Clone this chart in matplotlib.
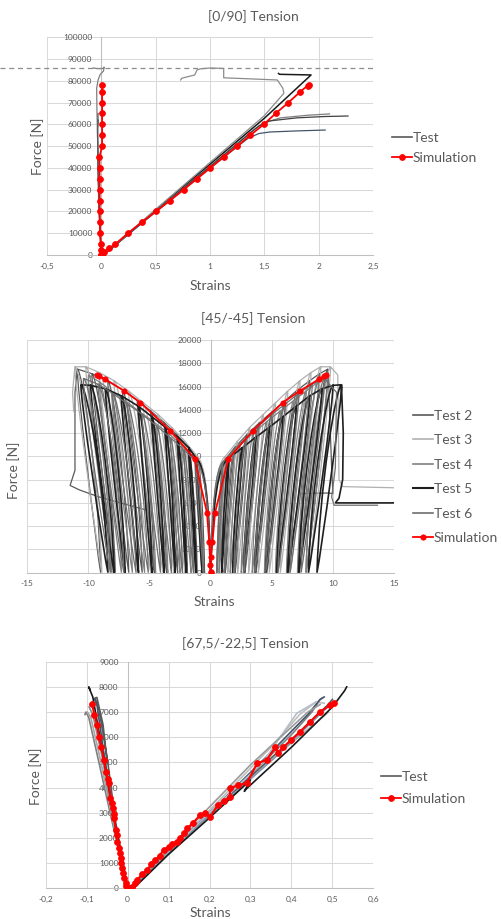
import matplotlib
matplotlib.use("Agg")
import matplotlib.pyplot as plt
from matplotlib.path import Path
from matplotlib.patches import PathPatch
from matplotlib.lines import Line2D
from matplotlib.ticker import FuncFormatter

plt.rcParams['font.family'] = ['Lato', 'DejaVu Sans']

TXT = '#595959'
GRID = '#d9d9d9'
AXIS = '#bfbfbf'
RED = '#ff0000'
MS = 4.2

# ---------------- [0/90] tension ----------------
p1_xticks = [-0.5, 0, 0.5, 1, 1.5, 2, 2.5]
p1_yticks = [0, 10000, 20000, 30000, 40000, 50000, 60000, 70000, 80000, 90000, 100000]
p1_strength = 85700

p1_sim_long_x = [0, 0.012, 0.02, 0.067, 0.129, 0.245, 0.371, 0.503, 0.632, 0.757, 0.88,
                 1.003, 1.126, 1.249, 1.371, 1.494, 1.604, 1.721, 1.831, 1.898, 1.907]
p1_sim_long_f = [0, 700, 1200, 3000, 5000, 10000, 15000, 20000, 25000, 30000, 35000,
                 40000, 45000, 50000, 55000, 60000, 65000, 70000, 75000, 77800, 78100]
p1_sim_tran_x = [0, 0.0, -0.005, -0.012, -0.013, -0.014, -0.015, -0.015, -0.016, -0.016,
                 -0.017, 0.007, 0.007, 0.007, 0.007, 0.007, 0.007, 0.007]
p1_sim_tran_f = [0, 2500, 5000, 10000, 15000, 20000, 25000, 30000, 35000, 40000,
                 45000, 50000, 55000, 60000, 65000, 70000, 75000, 78000]

p1_tests = [
    # (strain, force, colour, width)
    ([0.02, 0.5, 1.0, 1.5, 1.93, 1.64, 1.63],
     [0, 20600, 41700, 62800, 82700, 83000, 83400], '#1a1a1a', 1.1),
    ([0.02, 0.5, 1.0, 1.4, 1.5, 1.65, 1.9, 2.1],
     [0, 20300, 40800, 57500, 60800, 63000, 64200, 64800], '#7f7f7f', 0.9),
    ([0.02, 0.5, 1.0, 1.45, 1.55, 1.8, 2.05, 2.27],
     [0, 20100, 40600, 59300, 61600, 63000, 63600, 63850], '#404040', 0.9),
    ([0.02, 0.5, 1.0, 1.35, 1.45, 1.55, 1.8, 2.06],
     [0, 19800, 39900, 53600, 55800, 56500, 57000, 57400], '#44546a', 0.9),
    ([0.02, 0.5, 1.0, 1.5, 1.68, 1.67, 1.64, 1.62, 1.126, 1.126, 1.0, 0.91, 0.88, 0.86, 0.74, 0.73],
     [0, 21000, 42500, 64000, 74300, 76600, 78900, 80400, 81400, 85700, 85900, 85500, 85000,
      82700, 81200, 80400], '#8c8c8c', 0.9),
    ([0, -0.02, -0.03, -0.035, -0.03],
     [0, 20000, 40000, 58000, 62000], '#262626', 0.9),
    ([0, -0.02, -0.03, -0.04, -0.043, -0.03, -0.01, 0.02, 0.025, 0.02, -0.03, -0.077],
     [0, 20000, 45000, 65000, 76600, 80400, 83000, 84500, 86300, 85700, 85600, 85900], '#7f7f7f', 0.9),
    ([0, -0.025, -0.035, -0.03],
     [0, 25000, 55000, 65000], '#595959', 0.9),
]

# ---------------- [45/-45] tension ----------------
p2_xticks = [-15, -10, -5, 0, 5, 10, 15]
p2_yticks = list(range(0, 20001, 2000))

p2_sim_x = [-9.3, -9.14, -8.65, -7.07, -5.74, -3.29, -1.31, -0.3, -0.12, -0.02, 0,
            0, 0.02, 0.15, 0.36, 1.45, 3.46, 5.9, 7.27, 8.9, 9.25, 9.4]
p2_sim_f = [16950, 16920, 16630, 15630, 14620, 12190, 9800, 5160, 2670, 660, 90,
            90, 1380, 2670, 5160, 9800, 12210, 14620, 15600, 16660, 16900, 16950]

test2_force = [9600, 10800, 11900, 12900, 13900, 14800, 15700, 16500, 17100, 17500]
test2_pos_peak = [1.1, 2.0, 3.0, 4.0, 5.1, 6.1, 7.1, 8.1, 8.9, 9.6]
test2_pos_res = [0.5, 1.2, 2.0, 2.8, 3.7, 4.6, 5.5, 6.4, 7.2, 7.8]
test2_neg_peak = [-1.0, -1.8, -2.8, -3.8, -4.9, -6.0, -7.2, -8.4, -9.7, -10.9]
test2_neg_res = [-0.5, -1.1, -1.9, -2.7, -3.6, -4.6, -5.6, -6.7, -7.8, -9.0]
test2_pos_tail = ([9.9, 10.0, 9.6, 7.4], [9000, 6800, 6850, 6800])
test2_neg_tail = ([-11.1, -11.1, -11.5, -10.7, -9.1, -5.3], [15500, 8800, 7500, 7100, 6500, 5400])

test3_force = [10000, 11300, 12500, 13600, 14600, 15600, 16500, 17200, 17700, 17700]
test3_pos_peak = [1.2, 2.2, 3.2, 4.3, 5.3, 6.3, 7.3, 8.2, 9.0, 9.8]
test3_pos_res = [0.6, 1.4, 2.2, 3.1, 3.9, 4.8, 5.7, 6.5, 7.3, 8.0]
test3_neg_peak = [-1.1, -2.1, -3.2, -4.3, -5.5, -6.7, -7.9, -9.1, -10.2, -11.1]
test3_neg_res = [-0.6, -1.3, -2.1, -3.0, -3.9, -4.9, -5.9, -7.0, -8.0, -8.9]
test3_pos_tail = ([10.4, 10.5, 10.8, 15.0], [17000, 8000, 7400, 7300])
test3_neg_tail = ([-11.3, -11.2], [15500, 13800])

test4_force = [9800, 11000, 12000, 13000, 13900, 14800, 15600, 16400, 17000]
test4_pos_peak = [1.3, 2.4, 3.5, 4.6, 5.7, 6.8, 7.8, 8.8, 9.6]
test4_pos_res = [0.7, 1.6, 2.5, 3.4, 4.4, 5.3, 6.2, 7.1, 7.8]
test4_neg_peak = [-1.3, -2.4, -3.5, -4.7, -5.9, -7.0, -8.1, -9.1, -10.0]
test4_neg_res = [-0.7, -1.6, -2.5, -3.5, -4.5, -5.4, -6.4, -7.3, -8.1]
test4_pos_tail = ([], [])
test4_neg_tail = ([], [])

test5_force = [9850, 10750, 11650, 12500, 13400, 14300, 15200, 15800, 16100, 16150]
test5_pos_peak = [1.5, 2.6, 3.7, 4.8, 5.9, 7.0, 8.1, 9.1, 10.0, 10.7]
test5_pos_res = [0.9, 1.8, 2.7, 3.6, 4.5, 5.4, 6.3, 7.2, 8.0, 8.7]
test5_neg_peak = [-1.2, -1.8, -2.7, -3.7, -4.8, -5.9, -7.3, -8.6, -9.8, -10.6]
test5_neg_res = [-0.7, -1.2, -2.0, -2.9, -3.8, -4.8, -5.9, -7.0, -7.9, -8.4]
test5_pos_tail = ([10.85, 10.8, 10.5, 10.2, 15.0], [12000, 8000, 6400, 6000, 6000])
test5_neg_tail = ([], [])

test6_force = [9500, 10600, 11600, 12600, 13600, 14500, 15400, 16200, 16700]
test6_pos_peak = [1.0, 1.9, 2.9, 3.9, 5.0, 6.1, 7.2, 8.3, 9.3]
test6_pos_res = [0.5, 1.1, 1.9, 2.7, 3.6, 4.5, 5.5, 6.5, 7.4]
test6_neg_peak = [-1.2, -2.2, -3.3, -4.4, -5.6, -6.8, -8.0, -9.2, -10.4]
test6_neg_res = [-0.6, -1.4, -2.3, -3.2, -4.1, -5.1, -6.1, -7.1, -8.2]
test6_pos_tail = ([10.3, 10.2, 9.9, 10.1, 13.7], [15500, 9000, 6500, 5800, 5800])
test6_neg_tail = ([], [])

p2_tests = [
    ('Test 2', '#595959', 0.9, test2_force, test2_pos_peak, test2_pos_res, test2_neg_peak,
     test2_neg_res, test2_pos_tail, test2_neg_tail),
    ('Test 3', '#b0b0b0', 0.9, test3_force, test3_pos_peak, test3_pos_res, test3_neg_peak,
     test3_neg_res, test3_pos_tail, test3_neg_tail),
    ('Test 4', '#808080', 0.9, test4_force, test4_pos_peak, test4_pos_res, test4_neg_peak,
     test4_neg_res, test4_pos_tail, test4_neg_tail),
    ('Test 5', '#1f1f1f', 1.2, test5_force, test5_pos_peak, test5_pos_res, test5_neg_peak,
     test5_neg_res, test5_pos_tail, test5_neg_tail),
    ('Test 6', '#6e6e6e', 0.9, test6_force, test6_pos_peak, test6_pos_res, test6_neg_peak,
     test6_neg_res, test6_pos_tail, test6_neg_tail),
]

# ---------------- [67,5/-22,5] tension ----------------
p3_xticks = [-0.2, -0.1, 0, 0.1, 0.2, 0.3, 0.4, 0.5, 0.6]
p3_yticks = list(range(0, 9001, 1000))

p3_sim_long_x = [0, 0.006, 0.011, 0.017, 0.023, 0.035, 0.047, 0.058, 0.068, 0.078, 0.088,
                 0.1, 0.108, 0.12, 0.128, 0.138, 0.145, 0.16, 0.177, 0.19, 0.202, 0.22,
                 0.235, 0.25, 0.25, 0.27, 0.291, 0.316, 0.34, 0.361, 0.368, 0.38, 0.4,
                 0.42, 0.445, 0.47, 0.495, 0.503]
p3_sim_long_f = [0, 0, 60, 200, 330, 550, 730, 950, 1120, 1300, 1520,
                 1650, 1760, 1850, 1990, 2200, 2380, 2600, 2910, 3000, 2840, 3300,
                 3450, 3640, 3970, 4100, 4170, 4960, 5100, 5600, 5390, 5600, 5900,
                 6200, 6600, 7010, 7280, 7350]
p3_sim_tran_x = [0, -0.003, -0.005, -0.008, -0.011, -0.013, -0.015, -0.017, -0.019, -0.022,
                 -0.025, -0.027, -0.029, -0.032, -0.034, -0.036, -0.039, -0.042, -0.046,
                 -0.049, -0.052, -0.058, -0.064, -0.07, -0.075, -0.081, -0.087]
p3_sim_tran_f = [0, 100, 200, 400, 600, 800, 990, 1200, 1390, 1600,
                 1850, 2100, 2320, 2780, 2950, 3200, 3400, 3600, 4170,
                 4350, 4600, 5100, 5620, 6000, 6500, 6900, 7320]

p3_tests = [
    ([0.01, 0.15, 0.3, 0.4, 0.45, 0.47, 0.475], [0, 2200, 4500, 6100, 7000, 7500, 7550], '#7f7f7f'),
    ([0.01, 0.2, 0.35, 0.42, 0.46, 0.48], [0, 3100, 5600, 6900, 7400, 7350], '#bfbfbf'),
    ([0.005, 0.2, 0.35, 0.44, 0.47, 0.48], [0, 3000, 5400, 6900, 7500, 7600], '#44546a'),
    ([0.01, 0.2, 0.38, 0.48, 0.49], [0, 2900, 5500, 6850, 7000], '#a6a6a6'),
    ([0.01, 0.25, 0.4, 0.49, 0.5], [0, 3700, 5900, 7300, 7500], '#595959'),
    ([0.01, 0.2, 0.33, 0.413, 0.46], [0, 3000, 5000, 6950, 7400], '#b4bdc9'),
    ([0.01, 0.18, 0.3, 0.38, 0.44, 0.47], [0, 2900, 4900, 6100, 7000, 7300], '#9a9a9a'),
    ([0.01, 0.22, 0.36, 0.45, 0.495], [0, 3200, 5200, 6600, 7300], '#8497b0'),
    ([0.015, 0.1, 0.2, 0.3, 0.285, 0.29, 0.4, 0.5, 0.53, 0.535],
     [0, 1350, 2800, 4300, 3850, 3950, 5600, 7200, 7850, 8000], '#1a1a1a'),
    ([0, -0.04, -0.07, -0.095, -0.102, -0.104], [0, 2800, 5000, 6800, 7000, 6900], '#7f7f7f'),
    ([0, -0.04, -0.065, -0.09, -0.098], [0, 3000, 5000, 6800, 7000], '#a6a6a6'),
    ([0, -0.038, -0.062, -0.085, -0.094], [0, 3000, 5200, 6900, 7200], '#8c8c8c'),
    ([0, -0.03, -0.05, -0.07, -0.08, -0.075, -0.06, -0.05],
     [0, 2700, 5200, 7100, 7550, 7580, 6500, 5000], '#595959'),
    ([0, -0.035, -0.06, -0.075, -0.08], [0, 3000, 5600, 7300, 7500], '#44546a'),
    ([0, -0.03, -0.06, -0.085, -0.095, -0.092], [0, 2500, 5300, 7600, 8000, 7900], '#1a1a1a'),
]


def comma(v, pos):
    s = f'{v:g}'
    return s.replace('.', ',')


def excel_axes(ax, xticks, yticks):
    ax.set_xlim(xticks[0], xticks[-1])
    ax.set_ylim(yticks[0], yticks[-1])
    ax.set_xticks(xticks)
    ax.set_yticks(yticks)
    ax.xaxis.set_major_formatter(FuncFormatter(comma))
    ax.yaxis.set_major_formatter(FuncFormatter(comma))
    ax.grid(True, color=GRID, lw=0.75)
    ax.set_axisbelow(True)
    for s in ['top', 'right']:
        ax.spines[s].set_visible(False)
    ax.spines['left'].set_position(('data', 0))
    for s in ['left', 'bottom']:
        ax.spines[s].set_color(AXIS)
        ax.spines[s].set_linewidth(0.75)
        ax.spines[s].set_zorder(0.6)
    ax.tick_params(length=0, labelsize=6, labelcolor=TXT)
    ax.tick_params(axis='y', pad=6.5)
    ax.tick_params(axis='x', pad=5.5)


def labels(ax, title, tx, ty, sx, sy, fx, fy):
    ax.text(tx, ty, title, transform=ax.transAxes, ha='center', va='center',
            fontsize=10, color=TXT)
    ax.text(sx, sy, 'Strains', transform=ax.transAxes, ha='center', va='center',
            fontsize=10, color=TXT)
    ax.text(fx, fy, 'Force [N]', transform=ax.transAxes, ha='center', va='center',
            rotation=90, fontsize=10, color=TXT)


def cycles(peaks, forces, residuals, tail):
    # loading along the envelope, with an unload / reload leaf at every peak
    p0, f0 = peaks[0], forces[0]
    verts = [(0, 0), (0.1 * p0, 0.6 * f0), (0.4 * p0, 0.95 * f0), (p0, f0)]
    codes = [Path.MOVETO, Path.CURVE4, Path.CURVE4, Path.CURVE4]
    for i, (p, f, r) in enumerate(zip(peaks, forces, residuals)):
        if i > 0:
            verts.append((p, f))
            codes.append(Path.LINETO)
        d = p - r
        verts += [(p + 0.07 * d, 0.96 * f), (r + 0.18 * d, 0.12 * f), (r, 0)]
        codes += [Path.CURVE4] * 3
        verts += [(r + 0.1 * d, 0.45 * f), (p - 0.22 * d, 0.99 * f), (p, f)]
        codes += [Path.CURVE4] * 3
    for x, y in zip(*tail):
        verts.append((x, y))
        codes.append(Path.LINETO)
    return Path(verts, codes)


fig = plt.figure(figsize=(5.01, 9.19), dpi=100)

# ---- panel 1
ax1 = fig.add_axes([47 / 501, 1 - 255 / 919, 326 / 501, 217.7 / 919])
excel_axes(ax1, p1_xticks, p1_yticks)
for xs, fs, c, w in p1_tests:
    ax1.plot(xs, fs, color=c, lw=w)
ax1.axhline(p1_strength, xmin=-0.144, xmax=1, color='#8c8c8c', lw=0.9, ls=(0, (4, 3)),
            clip_on=False)
ax1.plot(p1_sim_tran_x, p1_sim_tran_f, color=RED, lw=1.3, marker='o', ms=MS, mew=0.6)
ax1.plot(p1_sim_long_x, p1_sim_long_f, color=RED, lw=1.3, marker='o', ms=MS, mew=0.6)
labels(ax1, '[0/90] Tension', 0.632, 1.0946, 0.5, -0.1424, -0.0298, 0.4975)
h1 = [Line2D([], [], color='#595959', lw=1.2),
      Line2D([], [], color=RED, lw=1.3, marker='o', ms=MS, mew=0.6)]
ax1.legend(h1, ['Test', 'Simulation'], loc='center left', bbox_to_anchor=(0.783, 0.8392),
           bbox_transform=fig.transFigure, frameon=False, fontsize=10, labelcolor=TXT,
           handlelength=1.44, handletextpad=0.05, labelspacing=0.55, borderpad=0,
           borderaxespad=0)

# ---- panel 2
ax2 = fig.add_axes([27.3 / 501, 1 - 572.7 / 919, 366.7 / 501, 232.7 / 919])
excel_axes(ax2, p2_xticks, p2_yticks)
h2 = []
for name, c, w, fs, pp, pr, npk, nr, pt, nt in p2_tests:
    ax2.add_patch(PathPatch(cycles(pp, fs, pr, pt), fill=False, edgecolor=c, lw=w))
    ax2.add_patch(PathPatch(cycles(npk, fs, nr, nt), fill=False, edgecolor=c, lw=w))
    h2.append(Line2D([], [], color=c, lw=w + 0.3))
ax2.plot(p2_sim_x, p2_sim_f, color=RED, lw=1.3, marker='o', ms=3.8, mew=0.6)
h2.append(Line2D([], [], color=RED, lw=1.3, marker='o', ms=3.8, mew=0.6))
labels(ax2, '[45/-45] Tension', 0.617, 1.0902, 0.509, -0.1246, -0.038, 0.441)
ax2.legend(h2, [t[0] for t in p2_tests] + ['Simulation'], loc='center left',
           bbox_to_anchor=(0.825, 0.4812), bbox_transform=fig.transFigure, frameon=False,
           fontsize=10, labelcolor=TXT, handlelength=1.44, handletextpad=0.05,
           labelspacing=0.9, borderpad=0, borderaxespad=0)

# ---- panel 3
ax3 = fig.add_axes([45.7 / 501, 1 - 888.3 / 919, 327.6 / 501, 226.6 / 919])
excel_axes(ax3, p3_xticks, p3_yticks)
for xs, fs, c in p3_tests:
    ax3.plot(xs, fs, color=c, lw=1.2)
ax3.plot(p3_sim_tran_x, p3_sim_tran_f, color=RED, lw=1.5, marker='o', ms=MS, mew=0.6)
ax3.plot(p3_sim_long_x, p3_sim_long_f, color=RED, lw=1.5, marker='o', ms=MS, mew=0.6)
labels(ax3, '[67,5/-22,5] Tension', 0.609, 1.078, 0.5015, -0.1077, -0.0296, 0.4956)
h3 = [Line2D([], [], color='#595959', lw=1.2),
      Line2D([], [], color=RED, lw=1.3, marker='o', ms=MS, mew=0.6)]
ax3.legend(h3, ['Test', 'Simulation'], loc='center left', bbox_to_anchor=(0.7605, 0.1425),
           bbox_transform=fig.transFigure, frameon=False, fontsize=10, labelcolor=TXT,
           handlelength=1.44, handletextpad=0.05, labelspacing=0.72, borderpad=0,
           borderaxespad=0)

fig.savefig('out.png', dpi=100, facecolor='white')
